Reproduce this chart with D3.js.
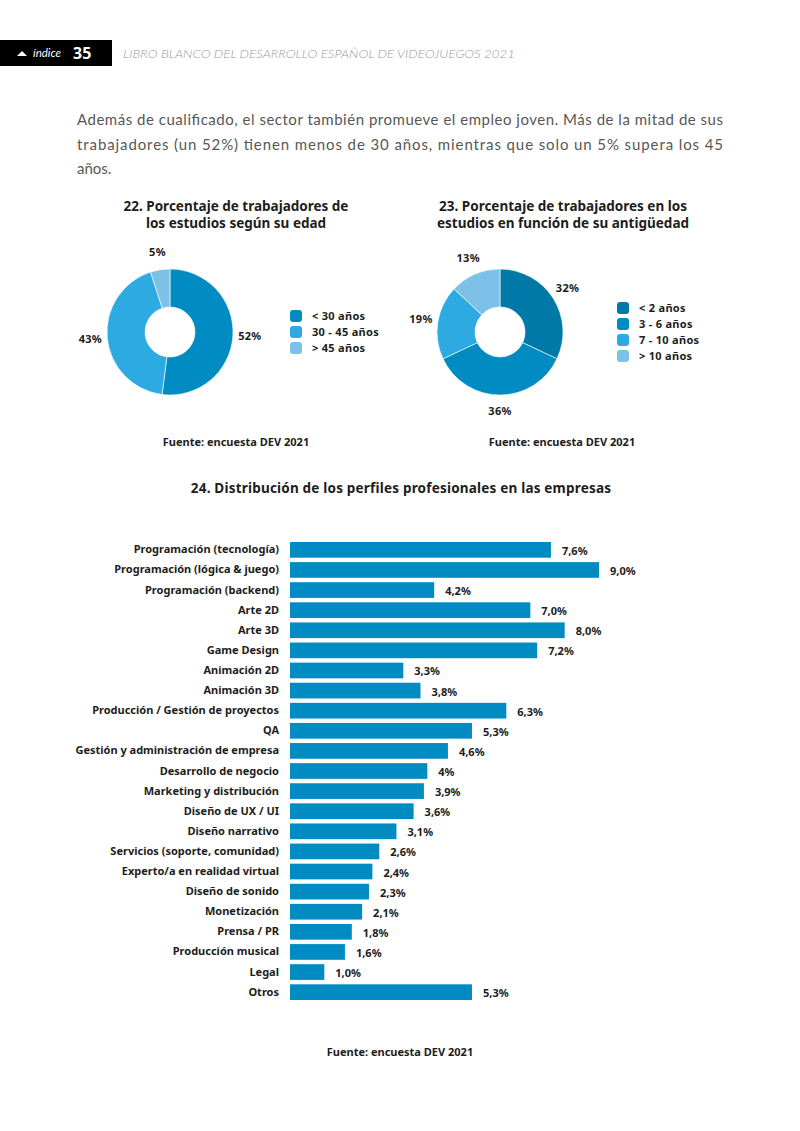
<!DOCTYPE html>
<html>
<head>
<meta charset="utf-8">
<script src="https://cdn.jsdelivr.net/npm/d3@7"></script>
<style>
  body { margin: 0; background: #fff; }
  svg text { font-family: "Noto Sans", sans-serif; }
</style>
</head>
<body>
<svg id="page"></svg>
<script>
// ---- data ----
const ageLabels = ["< 30 años", "30 - 45 años", "> 45 años"];
const ageValues = [52, 43, 5];
const ageColors = ["#008bc2", "#2eaae2", "#7dc0e8"];

const tenureLabels = ["< 2 años", "3 - 6 años", "7 - 10 años", "> 10 años"];
const tenureValues = [32, 36, 19, 13];
const tenureColors = ["#0079a8", "#008bc2", "#2eaae2", "#7dc0e8"];

const profiles = ["Programación (tecnología)", "Programación (lógica & juego)", "Programación (backend)",
  "Arte 2D", "Arte 3D", "Game Design", "Animación 2D", "Animación 3D",
  "Producción / Gestión de proyectos", "QA", "Gestión y administración de empresa",
  "Desarrollo de negocio", "Marketing y distribución", "Diseño de UX / UI", "Diseño narrativo",
  "Servicios (soporte, comunidad)", "Experto/a en realidad virtual", "Diseño de sonido",
  "Monetización", "Prensa / PR", "Producción musical", "Legal", "Otros"];
const profileValues = [7.6, 9.0, 4.2, 7.0, 8.0, 7.2, 3.3, 3.8, 6.3, 5.3, 4.6, 4.0, 3.9, 3.6, 3.1,
  2.6, 2.4, 2.3, 2.1, 1.8, 1.6, 1.0, 5.3];
const profileValueLabels = ["7,6%", "9,0%", "4,2%", "7,0%", "8,0%", "7,2%", "3,3%", "3,8%", "6,3%",
  "5,3%", "4,6%", "4%", "3,9%", "3,6%", "3,1%", "2,6%", "2,4%", "2,3%", "2,1%", "1,8%", "1,6%",
  "1,0%", "5,3%"];

const W = 800, H = 1131;
const ink = "#1d1d1b";
const barColor = "#008bc2";

const svg = d3.select("#page").attr("width", W).attr("height", H);

// ---- header ----
svg.append("rect").attr("x", 0).attr("y", 40).attr("width", 112).attr("height", 26).attr("fill", "#000");
svg.append("path").attr("d", "M17,56 L22,51 L27,56 Z").attr("fill", "#fff");
svg.append("text").text("índice").attr("x", 33).attr("y", 57)
    .attr("fill", "#fff").style("font-family", "Lato, sans-serif")
    .style("font-size", "11.5px").style("font-style", "italic").style("font-weight", 400);
svg.append("text").text("35").attr("x", 73).attr("y", 59)
    .attr("fill", "#fff").style("font-size", "16px").style("font-weight", 700);
svg.append("text").text("LIBRO BLANCO DEL DESARROLLO ESPAÑOL DE VIDEOJUEGOS 2021")
    .attr("x", 123).attr("y", 58).attr("fill", "#9a9a9a")
    .attr("textLength", 392).attr("lengthAdjust", "spacingAndGlyphs")
    .style("font-family", "Lato, sans-serif")
    .style("font-size", "12.5px").style("font-style", "italic").style("font-weight", 300);

// ---- paragraph ----
const para = [
  "Además de cualificado, el sector también promueve el empleo joven. Más de la mitad de sus",
  "trabajadores (un 52%) tienen menos de 30 años, mientras que solo un 5% supera los 45",
  "años."
];
para.forEach((line, i) => {
  const t = svg.append("text").text(line).attr("x", 77).attr("y", 125 + i * 24.5)
      .attr("fill", "#575756").style("font-family", "Lato, sans-serif")
      .style("font-size", "15px").style("font-weight", 400);
  if (i < para.length - 1) t.attr("textLength", 646).attr("lengthAdjust", "spacing");
});

// ---- donut helper ----
function donut(cx, cy, values, colors, titleLines, titleX, legendX, legendY, labels) {
  const g = svg.append("g");
  titleLines.forEach((l, i) => {
    g.append("text").text(l).attr("x", titleX).attr("y", 211 + i * 16.5)
      .attr("text-anchor", "middle").attr("fill", ink)
      .style("font-size", "13.5px").style("font-weight", 700);
  });
  const pie = d3.pie().sort(null).value(d => d)(values);
  const arc = d3.arc().innerRadius(25).outerRadius(63);
  const labelArc = d3.arc().innerRadius(80).outerRadius(80);
  const gp = g.append("g").attr("transform", `translate(${cx},${cy})`);
  gp.selectAll("path").data(pie).enter().append("path")
    .attr("d", arc).attr("fill", (d, i) => colors[i])
    .attr("stroke", "#fff").attr("stroke-width", 0.6);
  gp.selectAll("text").data(pie).enter().append("text")
    .attr("transform", d => `translate(${labelArc.centroid(d)})`)
    .attr("dy", "0.3em").attr("text-anchor", "middle")
    .attr("fill", ink).style("font-size", "11px").style("font-weight", 700)
    .style("letter-spacing", "0.3px")
    .text(d => d.data + "%");
  const lg = g.append("g").attr("transform", `translate(${legendX},${legendY})`);
  labels.forEach((l, i) => {
    lg.append("rect").attr("x", 0).attr("y", i * 16 - 6).attr("width", 12).attr("height", 12)
      .attr("rx", 3).attr("fill", colors[i]);
    lg.append("text").text(l).attr("x", 22).attr("y", i * 16 + 4)
      .attr("fill", ink).style("font-size", "11px").style("font-weight", 700)
      .style("letter-spacing", "0.3px");
  });
}

donut(170, 332, ageValues, ageColors,
  ["22. Porcentaje de trabajadores de", "los estudios según su edad"], 236, 290, 316, ageLabels);
donut(500, 332, tenureValues, tenureColors,
  ["23. Porcentaje de trabajadores en los", "estudios en función de su antigüedad"], 563, 617, 308, tenureLabels);

function source(cx, cy) {
  svg.append("text").text("Fuente: encuesta DEV 2021").attr("x", cx).attr("y", cy)
    .attr("text-anchor", "middle").attr("fill", ink)
    .style("font-size", "11px").style("font-weight", 700);
}
source(236, 446);
source(562, 446);

// ---- bar chart ----
svg.append("text").text("24. Distribución de los perfiles profesionales en las empresas")
  .attr("x", 401).attr("y", 493).attr("text-anchor", "middle").attr("fill", ink)
  .style("font-size", "13.5px").style("font-weight", 700).style("letter-spacing", "0.2px");

const x = d3.scaleLinear().domain([0, 9]).range([290, 599]);
const y = d3.scaleBand().domain(profiles).range([540, 1002]).paddingInner(0.22).paddingOuter(0.1);

const bars = svg.append("g");
bars.selectAll("rect").data(profiles).enter().append("rect")
  .attr("x", x(0)).attr("y", d => y(d))
  .attr("width", (d, i) => x(profileValues[i]) - x(0))
  .attr("height", y.bandwidth()).attr("fill", barColor);

bars.selectAll("text.val").data(profiles).enter().append("text").attr("class", "val")
  .attr("x", (d, i) => x(profileValues[i]) + 11)
  .attr("y", d => y(d) + y.bandwidth() / 2 + 5)
  .attr("fill", ink).style("font-size", "11px").style("font-weight", 700)
  .text((d, i) => profileValueLabels[i]);

const yAxis = svg.append("g").attr("transform", `translate(${x(0)},0)`)
  .call(d3.axisLeft(y).tickSize(0).tickPadding(11));
yAxis.select(".domain").remove();
yAxis.selectAll("text").attr("fill", ink)
  .style("font-family", "'Noto Sans', sans-serif")
  .style("font-size", "11px").style("font-weight", 700);

source(400, 1056);
</script>
</body>
</html>
